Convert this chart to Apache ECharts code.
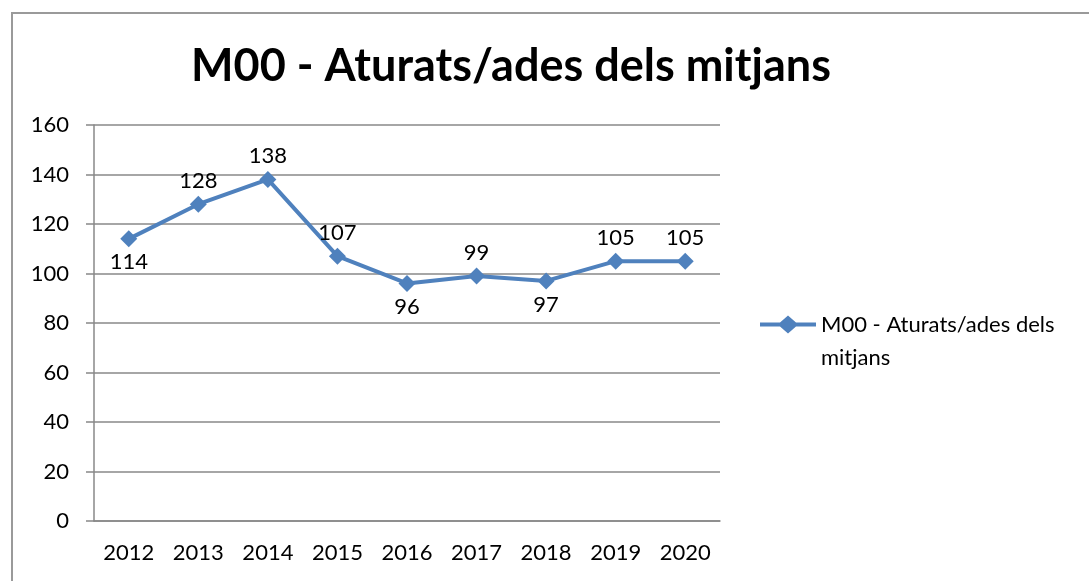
<!DOCTYPE html>
<html>
<head>
<meta charset="utf-8">
<script src="https://cdn.jsdelivr.net/npm/echarts@6/dist/echarts.min.js"></script>
<style>
  html, body { margin: 0; padding: 0; background: #fff; }
  #chart { width: 1089px; height: 581px; }
</style>
</head>
<body>
<div id="chart"></div>
<script>
// dades del gràfic
var years = ['2012', '2013', '2014', '2015', '2016', '2017', '2018', '2019', '2020'];
var values = [114, 128, 138, 107, 96, 99, 97, 105, 105];
var labelPos = ['bottom', 'top', 'top', 'top', 'bottom', 'top', 'bottom', 'top', 'top'];
var seriesName = 'M00 - Aturats/ades dels mitjans';

var myChart = echarts.init(document.getElementById('chart'));
var font = 'Lato, "Open Sans", sans-serif';

var option = {
    animation: false,
    title: {
        text: seriesName,
        left: 506,
        textAlign: 'center',
        top: 39,
        textStyle: { fontFamily: font, fontSize: 45, fontWeight: 'bold', color: '#000' }
    },
    graphic: [{
        type: 'rect',
        shape: { x: 12, y: 13, width: 1200, height: 700 },
        style: { fill: 'none', stroke: '#9a9a9a', lineWidth: 2 }
    }],
    legend: {
        left: 755,
        top: 270,
        itemWidth: 56,
        itemHeight: 18,
        itemGap: 4,
        // ligne + losange, comme la légende d'origine
        icon: 'path://M0,7L20,7L28,0L36,7L56,7L56,11L36,11L28,18L20,11L0,11Z',
        itemStyle: { color: '#4F81BD' },
        formatter: function () { return '\nM00 - Aturats/ades dels\nmitjans'; },
        textStyle: { fontFamily: font, fontSize: 22, color: '#000', lineHeight: 33 }
    },
    grid: { left: 94, right: 369, top: 125, bottom: 60 },
    xAxis: {
        type: 'category',
        data: years,
        boundaryGap: true,
        axisLine: { lineStyle: { color: '#888', width: 1.5 } },
        axisTick: { length: 8, lineStyle: { color: '#888', width: 1.5 } },
        axisLabel: { margin: 21, fontFamily: font, fontSize: 22, color: '#000' }
    },
    yAxis: {
        type: 'value',
        min: 0,
        max: 160,
        interval: 20,
        axisLine: { show: true, lineStyle: { color: '#888', width: 1.5 } },
        axisTick: { show: true, length: 8, lineStyle: { color: '#888', width: 1.5 } },
        axisLabel: { margin: 25, fontFamily: font, fontSize: 22, color: '#000' },
        splitLine: { lineStyle: { color: '#888', width: 1.5 } }
    },
    series: [{
        name: seriesName,
        type: 'line',
        data: values.map(function (v, i) {
            return { value: v, label: { position: labelPos[i] } };
        }),
        symbol: 'diamond',
        symbolSize: 17,
        lineStyle: { color: '#4F81BD', width: 4 },
        itemStyle: { color: '#4F81BD' },
        label: {
            show: true,
            distance: 4,
            fontFamily: font,
            fontSize: 22,
            color: '#000'
        }
    }]
};

myChart.setOption(option);
</script>
</body>
</html>
